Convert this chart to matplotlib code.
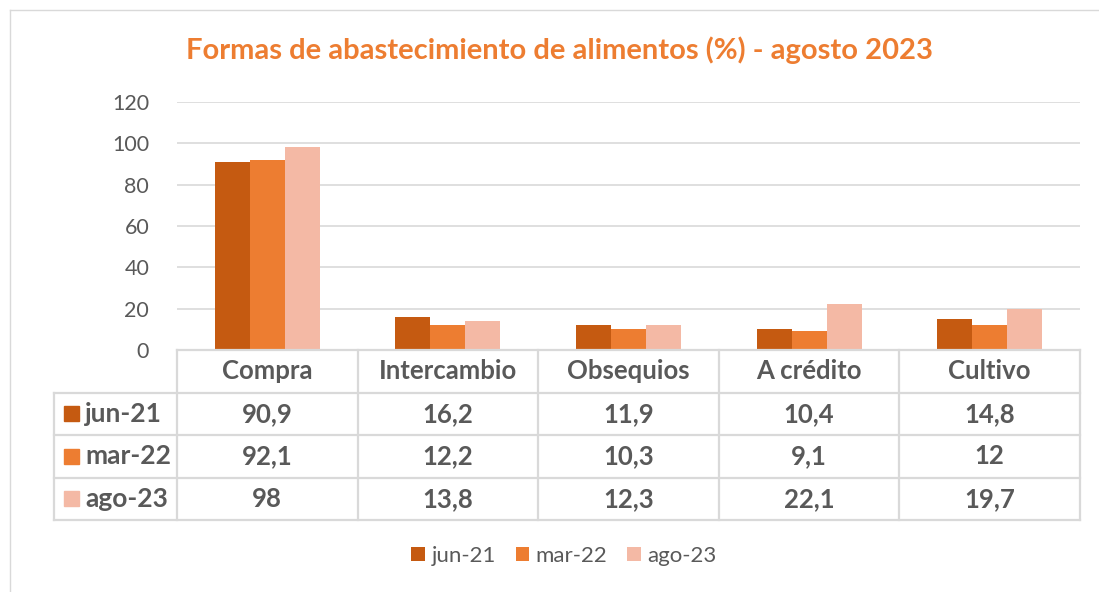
import matplotlib.pyplot as plt
import numpy as np

plt.rcParams['font.family'] = ['Lato', 'DejaVu Sans']

categories = ["Compra", "Intercambio", "Obsequios", "A crédito", "Cultivo"]
series_names = ["jun-21", "mar-22", "ago-23"]
jun21 = [90.9, 16.2, 11.9, 10.4, 14.8]
mar22 = [92.1, 12.2, 10.3, 9.1, 12]
ago23 = [98, 13.8, 12.3, 22.1, 19.7]
labels_jun21 = ["90,9", "16,2", "11,9", "10,4", "14,8"]
labels_mar22 = ["92,1", "12,2", "10,3", "9,1", "12"]
labels_ago23 = ["98", "13,8", "12,3", "22,1", "19,7"]
yticks = [0, 20, 40, 60, 80, 100, 120]

colors = ["#C55A11", "#ED7D31", "#F4B9A5"]
text_col = "#595959"
grid_col = "#D9D9D9"

W, H = 1099, 592
fig = plt.figure(figsize=(W / 100, H / 100), dpi=100)

def px_axes(x0, y0, x1, y1):
    # pixel box (top-left origin) -> figure axes
    return fig.add_axes([x0 / W, 1 - y1 / H, (x1 - x0) / W, (y1 - y0) / H])

# outer chart frame
frame = px_axes(10, 10, W + 5, H + 5)
frame.set_xticks([])
frame.set_yticks([])
for s in frame.spines.values():
    s.set_color(grid_col)
    s.set_linewidth(1)
frame.patch.set_alpha(0)

# bar plot
ax = px_axes(177, 102, 1080, 350)
x = np.arange(len(categories))
bw = 0.194
all_series = [jun21, mar22, ago23]
for i, (vals, c, name) in enumerate(zip(all_series, colors, series_names)):
    ax.bar(x + (i - 1) * bw, vals, width=bw, color=c, label=name, zorder=3)
ax.set_xlim(-0.5, len(categories) - 0.5)
ax.set_ylim(0, 120)
ax.set_yticks(yticks)
ax.set_yticklabels([str(t) for t in yticks], fontsize=15.5, color=text_col)
ax.tick_params(axis='y', length=0, pad=20)
ax.set_xticks([])
ax.grid(axis='y', color=grid_col, linewidth=1.2, zorder=0)
for s in ax.spines.values():
    s.set_visible(False)
ax.patch.set_alpha(0)

# data table
left_px = 54
unit = (1080 - 177) / len(categories)
xl = -0.5 - (177 - left_px) / unit
tab = px_axes(left_px, 350, 1080, 520)
tab.set_xlim(xl, len(categories) - 0.5)
tab.set_ylim(4, 0)
tab.axis('off')
lw = 1.6
# horizontal lines
tab.plot([-0.5, 4.5], [0, 0], color=grid_col, lw=lw, clip_on=False)
for r in [1, 2, 3, 4]:
    tab.plot([xl, 4.5], [r, r], color=grid_col, lw=lw, clip_on=False)
# vertical lines
tab.plot([xl, xl], [1, 4], color=grid_col, lw=lw, clip_on=False)
for k in range(len(categories) + 1):
    tab.plot([k - 0.5, k - 0.5], [0, 4], color=grid_col, lw=lw, clip_on=False)

for j, cat in enumerate(categories):
    tab.text(j, 0.5, cat, ha='center', va='center', fontsize=18.5,
             fontweight='bold', color=text_col)
row_labels = [labels_jun21, labels_mar22, labels_ago23]
sq_w = 15 / unit
for i, (name, labs, c) in enumerate(zip(series_names, row_labels, colors)):
    yy = i + 1.5
    tab.add_patch(plt.Rectangle((xl + 10 / unit, yy - 0.18), sq_w, 0.36,
                                color=c, clip_on=False))
    tab.text(xl + 31 / unit, yy, name, ha='left', va='center', fontsize=19,
             fontweight='bold', color=text_col)
    for j, lab in enumerate(labs):
        tab.text(j, yy, lab, ha='center', va='center', fontsize=18.5,
                 fontweight='bold', color=text_col)

# title
fig.text(559 / W, 1 - 50 / H, "Formas de abastecimiento de alimentos (%) - agosto 2023",
         ha='center', va='center', fontsize=21, fontweight='bold', color="#ED7D31")

# legend
leg = fig.legend(*ax.get_legend_handles_labels(), loc='center',
                 bbox_to_anchor=(564 / W, 1 - 556 / H), ncol=3, frameon=False,
                 fontsize=16, handlelength=0.6, handleheight=0.6,
                 handletextpad=0.3, columnspacing=0.9)
for t in leg.get_texts():
    t.set_color(text_col)

fig.savefig("out.png", dpi=100)
